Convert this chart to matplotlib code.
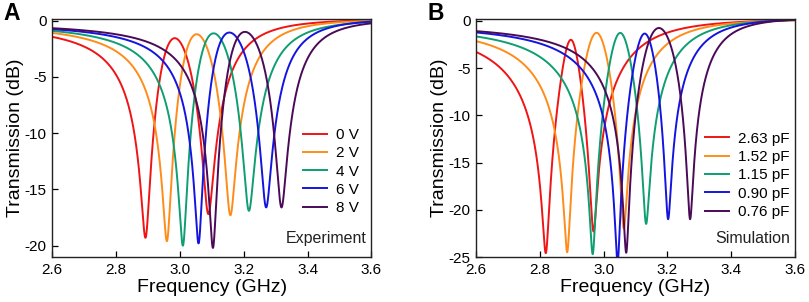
import numpy as np
import matplotlib
matplotlib.use("Agg")
import matplotlib.pyplot as plt

plt.rcParams['font.family'] = ['Liberation Sans', 'DejaVu Sans']
plt.rcParams['axes.unicode_minus'] = False

# ---------------- data ----------------
freq_range = [2.6, 3.6]
tail_freqs = [2.6, 3.4]

labels_a = ["0 V", "2 V", "4 V", "6 V", "8 V"]
dip1_f_a = [2.893, 2.960, 3.010, 3.059, 3.104]
dip1_db_a = [-19.3, -19.6, -20.0, -19.8, -20.2]
peak_f_a = [2.984, 3.053, 3.106, 3.155, 3.204]
peak_db_a = [-1.55, -1.20, -1.12, -1.05, -0.99]
dip2_f_a = [3.089, 3.158, 3.216, 3.270, 3.318]
dip2_db_a = [-17.2, -17.3, -16.9, -16.6, -16.6]
left_db_a = [-1.43, -1.08, -0.90, -0.75, -0.66]
right_db_a = [-0.25, -0.49, -1.05, -1.58, -3.35]

labels_b = ["2.63 pF", "1.52 pF", "1.15 pF", "0.90 pF", "0.76 pF"]
dip1_f_b = [2.819, 2.886, 2.966, 3.044, 3.071]
dip1_db_b = [-24.6, -24.5, -24.7, -25.6, -24.55]
peak_f_b = [2.897, 2.978, 3.052, 3.129, 3.173]
peak_db_b = [-2.00, -1.26, -1.27, -1.34, -0.75]
dip2_f_b = [2.968, 3.063, 3.133, 3.202, 3.271]
dip2_db_b = [-22.3, -22.0, -21.5, -21.0, -21.0]
left_db_b = [-3.28, -2.14, -1.64, -1.22, -1.08]
right_db_b = [-0.17, -0.28, -0.46, -0.70, -1.40]

colors = ["#f01414", "#ff8c1a", "#0e9e72", "#1414e0", "#4a0a58"]


# ------------- two-zero / two-pole resonance model -------------
def response_db(f, fd1, d1, fd2, d2, p1, p2):
    a1 = 10 ** (d1 / 20) * abs(fd1 - p1) * abs(fd1 - p2) / abs(fd1 - fd2)
    a2 = 10 ** (d2 / 20) * abs(fd2 - p1) * abs(fd2 - p2) / abs(fd1 - fd2)
    z1 = fd1 + 1j * a1
    z2 = fd2 + 1j * a2
    s = (f - z1) * (f - z2) / ((f - p1) * (f - p2))
    return 20 * np.log10(np.abs(s))


def nelder_mead(fun, x0, step, iters=600):
    n = len(x0)
    pts = [np.array(x0, float)]
    for i in range(n):
        x = np.array(x0, float)
        x[i] += step[i]
        pts.append(x)
    vals = [fun(p) for p in pts]
    for _ in range(iters):
        order = np.argsort(vals)
        pts = [pts[i] for i in order]
        vals = [vals[i] for i in order]
        cen = np.mean(pts[:-1], axis=0)
        xr = cen + (cen - pts[-1])
        fr = fun(xr)
        if fr < vals[0]:
            xe = cen + 2 * (cen - pts[-1])
            fe = fun(xe)
            if fe < fr:
                pts[-1], vals[-1] = xe, fe
            else:
                pts[-1], vals[-1] = xr, fr
        elif fr < vals[-2]:
            pts[-1], vals[-1] = xr, fr
        else:
            xc = cen + 0.5 * (pts[-1] - cen)
            fc = fun(xc)
            if fc < vals[-1]:
                pts[-1], vals[-1] = xc, fc
            else:
                for i in range(1, n + 1):
                    pts[i] = pts[0] + 0.5 * (pts[i] - pts[0])
                    vals[i] = fun(pts[i])
    i = int(np.argmin(vals))
    return pts[i], vals[i]


def fit_curve(fd1, d1, fd2, d2, fp, pk, lv, rv):
    fmid = np.linspace(fd1 + 0.01, fd2 - 0.01, 300)
    ft = np.array(tail_freqs)

    def obj(x):
        p1 = x[0] + 1j * np.exp(x[1])
        p2 = x[2] + 1j * np.exp(x[3])
        ym = response_db(fmid, fd1, d1, fd2, d2, p1, p2)
        k = int(np.argmax(ym))
        yt = response_db(ft, fd1, d1, fd2, d2, p1, p2)
        return ((yt[0] - lv) ** 2 + (yt[1] - rv) ** 2 + (ym[k] - pk) ** 2
                + (60 * (fmid[k] - fp)) ** 2)

    mid = 0.5 * (fd1 + fd2)
    starts = [
        [mid - 0.01, np.log(0.10), mid + 0.01, np.log(0.10)],
        [fd1, np.log(0.06), fd2, np.log(0.06)],
        [fp, np.log(0.04), mid + 0.05, np.log(0.2)],
        [mid - 0.06, np.log(0.15), mid + 0.05, np.log(0.08)],
        [mid + 0.06, np.log(0.15), mid - 0.03, np.log(0.08)],
    ]
    best, bv = None, np.inf
    for s in starts:
        x, v = nelder_mead(obj, s, [0.03, 0.4, 0.03, 0.4])
        x, v = nelder_mead(obj, x, [0.01, 0.15, 0.01, 0.15])
        if v < bv:
            best, bv = x, v
    return best[0] + 1j * np.exp(best[1]), best[2] + 1j * np.exp(best[3])


freq = np.linspace(freq_range[0], freq_range[1], 3001)

fig = plt.figure(figsize=(8.09, 3.02), dpi=100)
ax_a = fig.add_axes([0.0643, 0.149, 0.3949, 0.788])
ax_b = fig.add_axes([0.5884, 0.149, 0.3943, 0.788])

panels = [
    (ax_a, labels_a, dip1_f_a, dip1_db_a, dip2_f_a, dip2_db_a, peak_f_a, peak_db_a,
     left_db_a, right_db_a, (-21.0, 0.15), [0, -5, -10, -15, -20], "Experiment", "A",
     (0.785, 0.359)),
    (ax_b, labels_b, dip1_f_b, dip1_db_b, dip2_f_b, dip2_db_b, peak_f_b, peak_db_b,
     left_db_b, right_db_b, (-25.0, 0.2), [0, -5, -10, -15, -20, -25], "Simulation", "B",
     (0.718, 0.343)),
]

for (ax, labs, f1, d1, f2, d2, fp, pk, lv, rv, ylim, yt, tag, letter, leg_xy) in panels:
    for i in range(len(labs)):
        p1, p2 = fit_curve(f1[i], d1[i], f2[i], d2[i], fp[i], pk[i], lv[i], rv[i])
        y = response_db(freq, f1[i], d1[i], f2[i], d2[i], p1, p2)
        ax.plot(freq, y, color=colors[i], lw=1.4, label=labs[i])
    ax.set_xlim(freq_range)
    ax.set_ylim(ylim)
    ax.set_xticks([2.6, 2.8, 3.0, 3.2, 3.4, 3.6])
    ax.set_xticklabels(["2.6", "2.8", "3.0", "3.2", "3.4", "3.6"])
    ax.set_yticks(yt)
    ax.set_yticklabels([str(v) for v in yt])
    ax.tick_params(direction='in', length=4, width=0.9, labelsize=11, pad=4)
    for sp in ax.spines.values():
        sp.set_linewidth(1.0)
        sp.set_color('#222222')
    ax.set_xlabel("Frequency (GHz)", fontsize=14, labelpad=2)
    ax.set_ylabel("Transmission (dB)", fontsize=14, labelpad=0)
    ax.legend(loc='center left', bbox_to_anchor=leg_xy, frameon=False,
              fontsize=11, handlelength=1.6, handletextpad=0.55,
              labelspacing=0.28, borderpad=0, borderaxespad=0)
    ax.text(0.985, 0.045, tag, transform=ax.transAxes, ha='right', va='bottom',
            fontsize=11.5, color='#222222')
    fig.text(ax.get_position().x0 - 0.06, 0.995, letter, fontsize=16.5,
             fontweight='bold', ha='left', va='top')

fig.savefig("out.png", dpi=100)
